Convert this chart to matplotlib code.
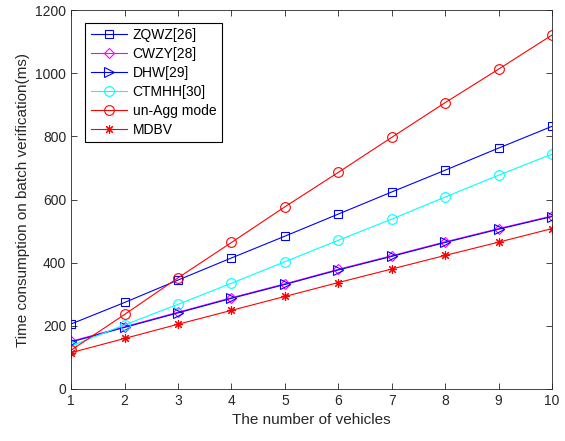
import matplotlib
matplotlib.use('Agg')
import matplotlib.pyplot as plt

plt.rcParams['font.family'] = ['Liberation Sans', 'DejaVu Sans']

# data
vehicles = [1, 2, 3, 4, 5, 6, 7, 8, 9, 10]
zqwz = [206, 274, 345, 415, 484, 554, 624, 693, 763, 832]
cwzy = [151, 197, 243, 289, 333, 379, 422, 466, 508, 548]
dhw = [149, 195, 241, 287, 331, 377, 420, 464, 506, 546]
ctmhh = [136, 203, 268, 335, 403, 471, 538, 608, 677, 744]
unagg = [123, 236, 352, 464, 577, 686, 797, 907, 1013, 1121]
mdbv = [115, 160, 205, 249, 293, 337, 380, 423, 465, 508]

ax_color = '#262626'


def main():
    fig = plt.figure(figsize=(5.65, 4.41), dpi=100)
    ax = fig.add_axes([0.126, 0.118, 0.851, 0.859])

    lw = 0.8
    ax.plot(vehicles, zqwz, color='#0000ff', marker='s', ms=5.5, mfc='none', mew=0.8, lw=lw, label='ZQWZ[26]')
    ax.plot(vehicles, cwzy, color='#ff00ff', marker='D', ms=5.5, mfc='none', mew=0.8, lw=lw, label='CWZY[28]')
    ax.plot(vehicles, dhw, color='#0000ff', marker='>', ms=7, mfc='none', mew=0.8, lw=lw, label='DHW[29]')
    ax.plot(vehicles, ctmhh, color='#00ffff', marker='o', ms=7, mfc='none', mew=0.8, lw=lw, label='CTMHH[30]')
    ax.plot(vehicles, unagg, color='#ff0000', marker='o', ms=7, mfc='none', mew=0.8, lw=lw, label='un-Agg mode')
    ax.plot(vehicles, mdbv, color='#ff0000', marker=(8, 2, 0), ms=6.5, mew=0.8, lw=lw, label='MDBV')

    ax.set_xlim(1, 10)
    ax.set_ylim(0, 1200)
    ax.set_xticks(vehicles)
    ax.set_yticks(range(0, 1201, 200))
    ax.tick_params(direction='in', top=True, right=True, labelsize=10,
                   colors=ax_color, length=4, width=0.6)
    for s in ax.spines.values():
        s.set_color(ax_color)
        s.set_linewidth(0.6)

    ax.set_xlabel('The number of vehicles', fontsize=11, color=ax_color)
    ax.set_ylabel('Time consumption on batch verification(ms)', fontsize=11, color=ax_color)

    leg = ax.legend(loc='upper left', bbox_to_anchor=(0.015, 0.985), fontsize=10,
                    fancybox=False, edgecolor='black', framealpha=1,
                    handlelength=2.6, labelspacing=0.35, borderpad=0.4, handletextpad=0.4)
    leg.get_frame().set_linewidth(0.8)

    fig.savefig('out.png', dpi=100)


if __name__ == '__main__':
    main()
